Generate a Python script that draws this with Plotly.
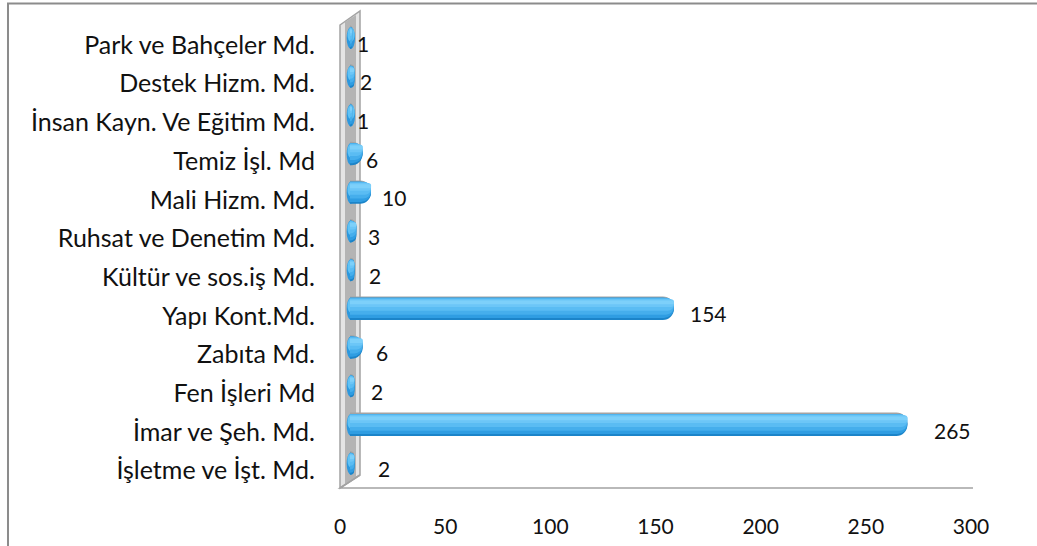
import plotly.graph_objects as go

# Departments, listed bottom to top
categories = [
    "İşletme ve İşt. Md.",
    "İmar ve Şeh. Md.",
    "Fen İşleri Md",
    "Zabıta Md.",
    "Yapı Kont.Md.",
    "Kültür ve sos.iş Md.",
    "Ruhsat ve Denetim Md.",
    "Mali Hizm. Md.",
    "Temiz İşl. Md",
    "İnsan Kayn. Ve Eğitim Md.",
    "Destek Hizm. Md.",
    "Park ve Bahçeler Md.",
]
values = [2, 265, 2, 6, 154, 2, 3, 10, 6, 1, 2, 1]
x_ticks = [0, 50, 100, 150, 200, 250, 300]
# pixel gap between each bar end and its value label
label_gap = [22, 25, 15, 11, 14, 13, 10, 9, 1, 3, 4, 3]

W, H = 1037, 546
FONT = "Lato"
PX_PER_UNIT = 631 / 300


def fx(x):
    return x / W


def fy(y):
    return 1 - y / H


pos = list(range(len(categories)))
fig = go.Figure()

# cylinder look: stacked bands from dark bottom to light top
bands = [
    (-0.25, 0.57, "#a3a3a3"),
    (-0.285, 0.57, "#1b84c9"),
    (-0.235, 0.52, "#2f9de2"),
    (-0.15, 0.435, "#45aeec"),
    (-0.05, 0.32, "#5abcf3"),
    (0.05, 0.20, "#6cc6f7"),
    (0.12, 0.10, "#7dd0fa"),
]
for off, wid, col in bands:
    fig.add_trace(go.Bar(
        x=values, y=pos, orientation="h",
        offset=off, width=wid,
        marker=dict(color=col, line=dict(width=0), cornerradius="50%"),
        xaxis="x2", yaxis="y2", hoverinfo="skip", showlegend=False,
    ))

# front axes carrying the tick labels
fig.add_trace(go.Scatter(
    x=values, y=pos, mode="markers", marker=dict(opacity=0),
    hoverinfo="skip", showlegend=False,
))

shapes = []


def path(points, close=False):
    s = "M " + " L ".join(f"{fx(a):.5f},{fy(b):.5f}" for a, b in points)
    return s + (" Z" if close else "")


# chart frame
shapes.append(dict(type="path", xref="paper", yref="paper",
                   path=path([(8, 546), (8, 3.5), (1037, 3.5)]),
                   line=dict(color="#8c8c8c", width=2), layer="below"))
# side wall
shapes.append(dict(type="path", xref="paper", yref="paper",
                   path=path([(340, 25), (360, 11), (360, 475), (340, 488)], True),
                   fillcolor="#e4e4e4", line=dict(color="#a3a3a3", width=1.5),
                   layer="below"))
shapes.append(dict(type="path", xref="paper", yref="paper",
                   path=path([(345, 22), (356, 15), (356, 478), (345, 485)], True),
                   fillcolor="#b4b4b4", line=dict(width=0), layer="below"))
# floor edges
shapes.append(dict(type="path", xref="paper", yref="paper",
                   path=path([(973, 488), (340, 488), (360, 475)]),
                   line=dict(color="#a3a3a3", width=1.5), layer="below"))

# round base face of each cylinder, sitting against the wall
for i in pos:
    shapes.append(dict(type="circle", xref="x2", yref="y2",
                       x0=-1.6, x1=2.4, y0=i - 0.285, y1=i + 0.285,
                       fillcolor="#2c98de", line=dict(width=0), layer="below"))
    shapes.append(dict(type="circle", xref="x2", yref="y2",
                       x0=-1.2, x1=2.2, y0=i - 0.10, y1=i + 0.27,
                       fillcolor="#5fc2f5", line=dict(width=0), layer="below"))

annotations = []
for i, v, g in zip(pos, values, label_gap):
    annotations.append(dict(
        x=v, y=i, xref="x2", yref="y", text=str(v), showarrow=False,
        xanchor="left", yanchor="middle", xshift=g, yshift=2,
        font=dict(family=FONT, size=21, color="#111111"),
    ))

# bar axis: zero sits 10 px right of the front axis zero, with a little
# room on the left so the round base faces are not clipped
bar_lo = -5
bar_x0 = 350 + bar_lo * PX_PER_UNIT

fig.update_layout(
    width=W, height=H, autosize=False,
    margin=dict(l=0, r=0, t=0, b=0, autoexpand=False),
    paper_bgcolor="white", plot_bgcolor="rgba(0,0,0,0)",
    barmode="overlay",
    shapes=shapes, annotations=annotations,
    xaxis=dict(domain=[fx(340), fx(971)], range=[0, 300], tickvals=x_ticks,
               showgrid=False, zeroline=False, showline=False, ticks="",
               ticklabelstandoff=22, anchor="y", automargin=False,
               tickfont=dict(family=FONT, size=21, color="#111111")),
    yaxis=dict(domain=[fy(490.05), fy(25.65)], range=[-0.5, 11.5],
               tickvals=pos, ticktext=categories,
               showgrid=False, zeroline=False, showline=False, ticks="",
               ticklabelstandoff=24, anchor="x", automargin=False,
               tickfont=dict(family=FONT, size=25, color="#111111")),
    xaxis2=dict(domain=[fx(bar_x0), fx(981)], range=[bar_lo, 300],
                visible=False, anchor="y2"),
    yaxis2=dict(domain=[fy(483.05), fy(18.65)], range=[-0.5, 11.5],
                visible=False, anchor="x2"),
)

fig.write_html("out.html", config={"responsive": False})
